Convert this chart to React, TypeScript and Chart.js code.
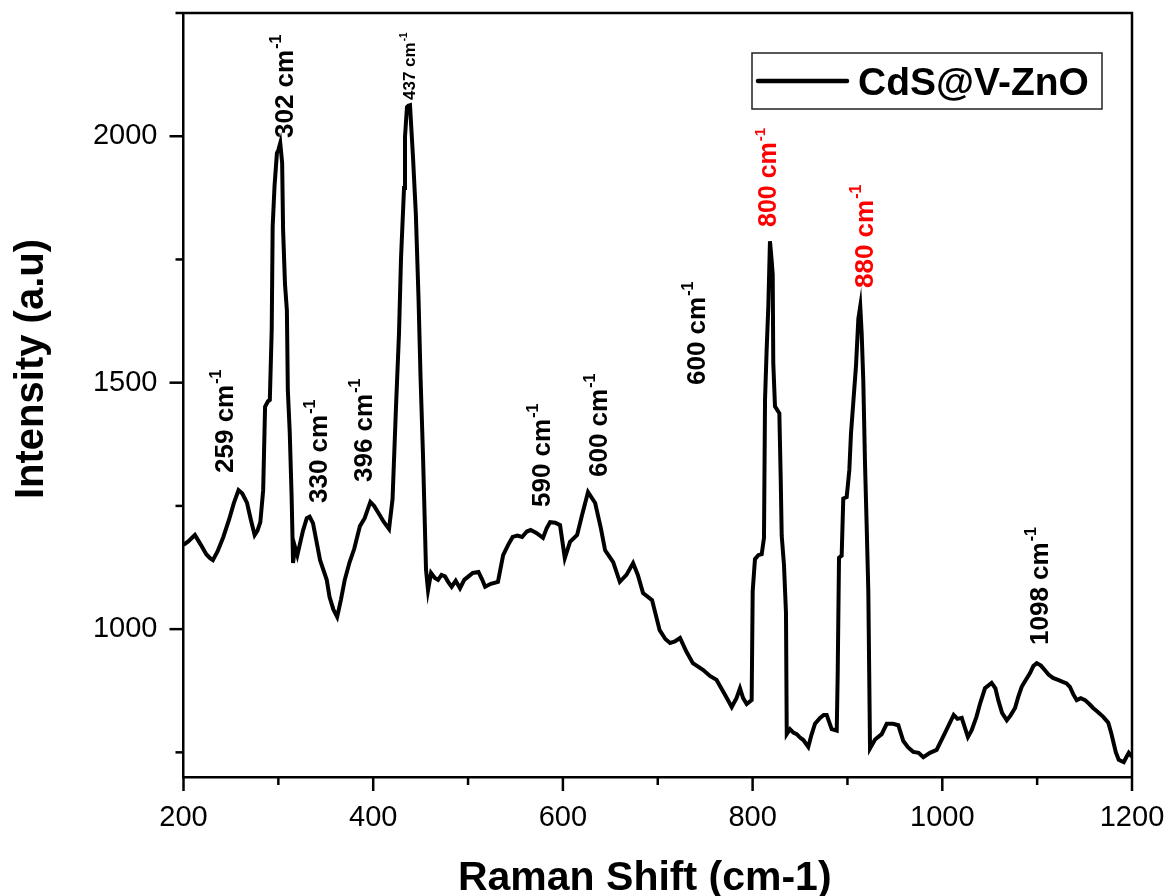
import React, { useEffect, useRef } from 'react';
import { Chart, registerables } from 'chart.js';

Chart.register(...registerables);

const FONT = '"Liberation Sans", Arial, sans-serif';

const ramanShift = [
  200, 205, 212, 218, 224, 228, 231, 236, 242, 248,
  253, 258, 262, 267, 271, 275, 278, 281, 284, 286,
  289, 291, 293, 294, 296, 298.5, 300, 302, 304, 305,
  307, 309, 310, 312, 314, 315.5, 317.5, 320, 323, 326,
  330, 333, 336.5, 340, 344, 351, 354, 358, 362, 366,
  370, 375, 380, 386, 391, 397, 401, 406, 411, 416.7,
  420.4, 424, 427.2, 429.3, 432.5, 433.5, 435.6, 437, 438.8, 442,
  445, 447.8, 449.9, 452.5, 455.7, 457.8, 461, 465, 468.4, 472,
  475.7, 479, 482.7, 487, 491.5, 496, 500.5, 505, 511, 515,
  518, 524, 531.5, 537, 542, 547, 552, 557, 562, 566,
  572, 579, 583, 586.5, 592, 597, 602, 607.5, 615, 620,
  626.5, 634, 640, 644.5, 648, 653, 660, 667, 674, 679,
  684.5, 694, 702, 708, 713, 718, 723.5, 730, 737, 748,
  755, 762, 770, 778,
  783, 786.7, 790, 793.8, 799, 800.1, 802.5, 806, 809.6, 812,
  813.1, 814.8, 816.6, 818.3, 820, 821.2, 821.8, 823.6, 828.2, 829.6,
  830.7, 833.1, 835.2, 836, 839.4, 843, 846.5, 850, 853.5, 858.7,
  862, 865.8, 871.1, 875, 878.1, 883.4, 888.7, 889.7, 891.1, 893.9,
  895.6, 899.2, 902, 903.7, 906.2, 909, 911.5, 913.5, 915, 916.7,
  918.5, 920.3, 922, 923.8, 929.1, 936.1, 941.4, 948, 953.6, 958.9,
  964, 969.4, 975, 980, 987, 994, 1003, 1012, 1016, 1020.5,
  1027, 1031, 1036, 1040, 1045, 1052, 1056, 1059, 1063, 1068,
  1072, 1076.7, 1080, 1083.7, 1088, 1092.5, 1096, 1099.5, 1104, 1108,
  1112, 1116.7, 1122, 1127, 1131, 1134.5, 1138, 1141.7, 1146, 1150.5,
  1155, 1159, 1164, 1169.7, 1175, 1178, 1180.6, 1183, 1186, 1191.3,
  1194, 1196.6, 1200,
];

const intensity = [
  1171, 1178, 1191, 1172, 1152, 1144, 1140, 1158, 1187, 1222,
  1255, 1282, 1275, 1256, 1222, 1191, 1200, 1217, 1282, 1451,
  1462, 1465, 1607, 1816, 1900, 1966, 1972, 1986, 1946, 1810,
  1700, 1647, 1485, 1400, 1268, 1134, 1167, 1150, 1175, 1200,
  1225, 1228, 1215, 1180, 1140, 1100, 1065, 1040, 1025, 1060,
  1100, 1135, 1163, 1209, 1225, 1258, 1250, 1234, 1218, 1203,
  1264, 1449, 1600, 1751, 1895, 1998, 2059, 2062, 2063, 1956,
  1840, 1670, 1512, 1353, 1120, 1079, 1114, 1104, 1100, 1110,
  1107, 1096, 1086, 1098, 1083, 1100, 1107, 1114, 1116, 1100,
  1086, 1092, 1096, 1150, 1170, 1187, 1190, 1187, 1198, 1201,
  1195, 1185, 1205, 1217, 1216, 1211, 1144, 1177, 1191, 1230,
  1278, 1256, 1205, 1160, 1150, 1136, 1096, 1110, 1134, 1110,
  1073, 1059, 998, 980, 972, 975, 982, 955, 931, 917,
  905, 897, 870, 842,
  860, 880, 860, 848, 856, 1077, 1142, 1150, 1152, 1185,
  1465, 1566, 1656, 1787, 1750, 1720, 1540, 1452, 1438, 1309,
  1189, 1130, 1033, 787, 797, 790, 787, 780, 775, 761,
  785, 808, 820, 826, 826, 797, 794, 907, 1145, 1149,
  1265, 1268, 1323, 1396, 1461, 1534, 1630, 1655, 1600, 1504,
  1337, 1207, 1077, 758, 776, 787, 808, 808, 805, 773,
  760, 751, 749, 740, 749, 755, 790, 826, 818, 820,
  781, 795, 822, 850, 880, 891, 880, 856, 830, 815,
  825, 840, 862, 883, 897, 911, 925, 931, 926, 917,
  908, 901, 897, 893, 890, 883, 868, 856, 860, 856,
  848, 840, 832, 822, 810, 790, 769, 750, 735, 730,
  740, 749, 741,
];

const seriesLabel = 'CdS@V-ZnO';

const xMajorTicks = [200, 400, 600, 800, 1000, 1200];
const xMinorTicks = [300, 500, 700, 900, 1100];
const yMajorTicks = [1000, 1500, 2000];
const yMinorTicks = [750, 1250, 1750, 2250];

const peakLabelText = ['259 cm', '302 cm', '330 cm', '396 cm', '437 cm', '590 cm', '600 cm', '600 cm', '800 cm', '880 cm', '1098 cm'];
const peakLabelX = [252.2, 315.4, 351.3, 398.7, 444.1, 586.4, 646.5, 749.8, 824.7, 926.9, 1111.4];
const peakLabelY = [1316.8, 1996.4, 1255.9, 1298.5, 2073.5, 1247.8, 1308.6, 1495.3, 1815.8, 1692.1, 967.8];
const peakLabelColor = ['#000', '#000', '#000', '#000', '#000', '#000', '#000', '#000', '#ff0000', '#ff0000', '#000'];
const peakLabelSize = [26, 26, 26, 26, 17, 26, 26, 26, 25, 26, 26];

const decorPlugin = {
  id: 'decor',
  afterDraw(chart: any) {
    const { ctx, chartArea, scales } = chart;
    const { left, right, top, bottom } = chartArea;
    const xs = scales.x;
    const ys = scales.y;
    ctx.save();
    ctx.strokeStyle = '#000';
    ctx.lineWidth = 2.5;
    ctx.lineCap = 'butt';
    ctx.beginPath();
    ctx.moveTo(left, top);
    ctx.lineTo(right, top);
    ctx.lineTo(right, bottom);
    ctx.stroke();
    const seg = (x1: number, y1: number, x2: number, y2: number) => {
      ctx.beginPath();
      ctx.moveTo(x1, y1);
      ctx.lineTo(x2, y2);
      ctx.stroke();
    };
    xMajorTicks.forEach((v) => { const p = xs.getPixelForValue(v); seg(p, bottom, p, bottom + 14); });
    xMinorTicks.forEach((v) => { const p = xs.getPixelForValue(v); seg(p, bottom, p, bottom + 8); });
    yMajorTicks.forEach((v) => { const p = ys.getPixelForValue(v); seg(left, p, left - 14, p); });
    yMinorTicks.forEach((v) => { const p = ys.getPixelForValue(v); seg(left, p, left - 8, p); });

    peakLabelText.forEach((t, i) => {
      const px = xs.getPixelForValue(peakLabelX[i]);
      const py = ys.getPixelForValue(peakLabelY[i]);
      const size = peakLabelSize[i];
      ctx.save();
      ctx.translate(px, py);
      ctx.rotate(-Math.PI / 2);
      ctx.fillStyle = peakLabelColor[i];
      ctx.textAlign = 'left';
      ctx.textBaseline = 'alphabetic';
      ctx.font = `bold ${size}px ${FONT}`;
      ctx.fillText(t, 0, 0);
      const w = ctx.measureText(t).width;
      ctx.font = `bold ${Math.round(size * 0.6)}px ${FONT}`;
      ctx.fillText('-1', w + 1, -size * 0.45);
      ctx.restore();
    });

    const bx = right - 30 - 350;
    const by = top + 40;
    ctx.lineWidth = 1.5;
    ctx.strokeStyle = '#222';
    ctx.strokeRect(bx, by, 350, 56);
    ctx.lineWidth = 4.5;
    ctx.strokeStyle = '#000';
    ctx.lineCap = 'round';
    seg(bx + 6, by + 28, bx + 95, by + 28);
    ctx.fillStyle = '#000';
    ctx.font = `bold 39px ${FONT}`;
    ctx.textAlign = 'left';
    ctx.textBaseline = 'alphabetic';
    ctx.fillText(chart.data.datasets[0].label, bx + 106, by + 42);

    ctx.font = `bold 41px ${FONT}`;
    ctx.textAlign = 'center';
    ctx.fillText('Raman Shift (cm-1)', (left + right) / 2 - 13, bottom + 113);
    ctx.save();
    ctx.translate(left - 141, (top + bottom) / 2 - 26);
    ctx.rotate(-Math.PI / 2);
    ctx.font = `bold 40px ${FONT}`;
    ctx.textAlign = 'center';
    ctx.fillText('Intensity (a.u)', 0, 0);
    ctx.restore();
    ctx.restore();
  },
};

export default function App() {
  const ref = useRef<HTMLCanvasElement>(null);
  useEffect(() => {
    if (!ref.current) return;
    const chart = new Chart(ref.current, {
      type: 'line',
      data: {
        datasets: [
          {
            label: seriesLabel,
            data: ramanShift.map((x, i) => ({ x, y: intensity[i] })),
            borderColor: '#000',
            backgroundColor: '#000',
            borderWidth: 4,
            pointRadius: 0,
            tension: 0,
            fill: false,
          },
        ],
      },
      options: {
        responsive: false,
        animation: false,
        devicePixelRatio: 1,
        layout: { padding: { top: 13, right: 40, left: 0, bottom: 0 } },
        plugins: { legend: { display: false }, tooltip: { enabled: false } },
        scales: {
          x: {
            type: 'linear',
            min: 200,
            max: 1200,
            afterBuildTicks: (s: any) => { s.ticks = xMajorTicks.map((v) => ({ value: v })); },
            afterFit: (s: any) => { s.height = 119; s.paddingLeft = 0; s.paddingRight = 0; },
            grid: { display: false, drawTicks: false },
            border: { display: true, color: '#000', width: 2.5 },
            ticks: { color: '#000', font: { family: FONT, size: 29 }, padding: 24, maxRotation: 0, autoSkip: false, callback: (v: any) => String(v) },
          },
          y: {
            type: 'linear',
            min: 700,
            max: 2250,
            afterBuildTicks: (s: any) => { s.ticks = yMajorTicks.map((v) => ({ value: v })); },
            afterFit: (s: any) => { s.width = 183.5; s.paddingTop = 0; s.paddingBottom = 0; },
            grid: { display: false, drawTicks: false },
            border: { display: true, color: '#000', width: 2.5 },
            ticks: { color: '#000', font: { family: FONT, size: 29 }, padding: 26, callback: (v: any) => String(v) },
          },
        },
      },
      plugins: [decorPlugin],
    } as any);
    return () => chart.destroy();
  }, []);
  return (
    <div style={{ position: 'absolute', left: 0, top: 0, width: 1172, height: 896, background: '#fff' }}>
      <canvas ref={ref} width={1172} height={896} style={{ display: 'block' }} />
    </div>
  );
}
